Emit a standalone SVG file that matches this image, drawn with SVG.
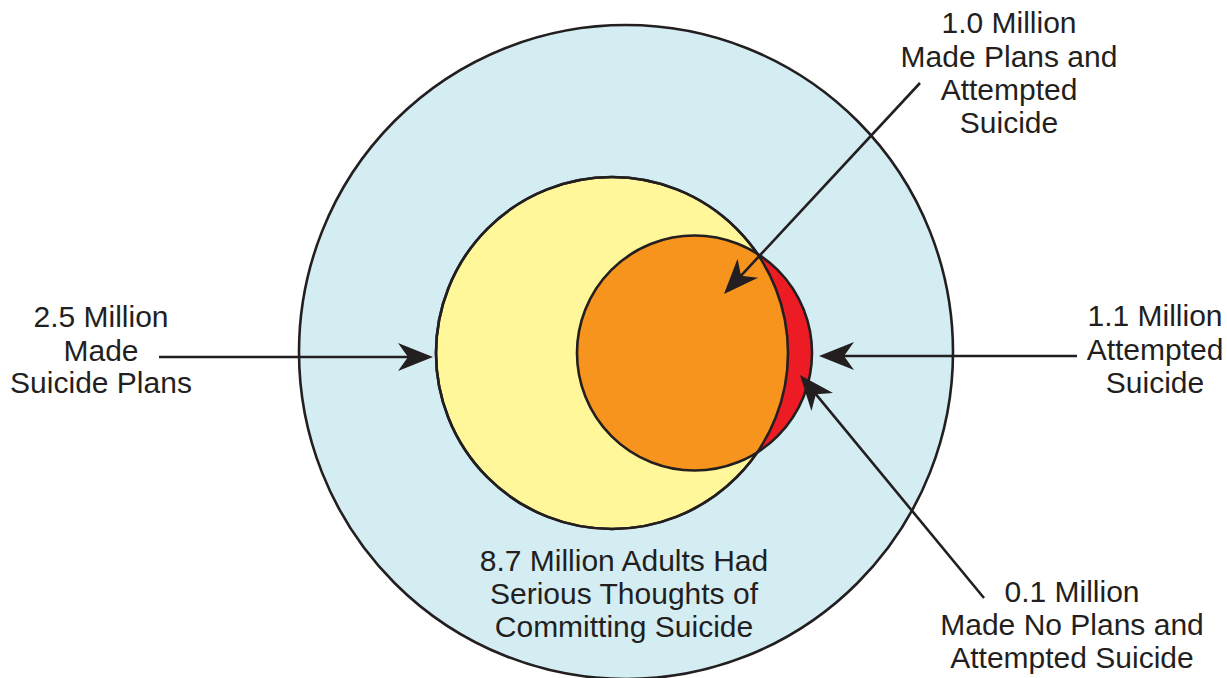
<svg xmlns="http://www.w3.org/2000/svg" width="1227" height="678" viewBox="0 0 1227 678">
  <style>
    .outline { stroke: #231F20; stroke-width: 2.6; }
    .lbl { font-family: "Liberation Sans", Arial, Helvetica, sans-serif; font-size: 30px; fill: #231F20; text-anchor: middle; }
    .conn { stroke: #231F20; stroke-width: 2.6; fill: none; marker-end: url(#arrow); }
  </style>
  <defs>
    <marker id="arrow" markerUnits="userSpaceOnUse" markerWidth="40" markerHeight="32" viewBox="0 -16 40 32" refX="15" refY="0" orient="auto">
      <path d="M35,0 L0,-14 L10,0 L0,14 Z" fill="#231F20"/>
    </marker>
    <clipPath id="yellowClip">
      <circle cx="612" cy="353" r="176"/>
    </clipPath>
  </defs>
  <rect width="1227" height="678" fill="#FFFFFF"/>

  <g id="node-thoughts">
    <circle cx="626" cy="352" r="327" fill="#D4EDF3" class="outline"/>
    <text class="lbl" x="624" y="571">8.7 Million Adults Had</text>
    <text class="lbl" x="624" y="604">Serious Thoughts of</text>
    <text class="lbl" x="624" y="637">Committing Suicide</text>
  </g>

  <g id="node-plans">
    <circle cx="612" cy="353" r="176" fill="#FFF79A" class="outline"/>
  </g>

  <g id="node-attempted">
    <circle cx="694.5" cy="353" r="117.5" fill="#ED1C24"/>
    <circle cx="694.5" cy="353" r="117.5" fill="#F7941D" clip-path="url(#yellowClip)"/>
    <circle cx="612" cy="353" r="176" fill="none" class="outline"/>
    <circle cx="694.5" cy="353" r="117.5" fill="none" class="outline"/>
  </g>

  <g id="label-plans">
    <text class="lbl" x="101" y="327">2.5 Million</text>
    <text class="lbl" x="101" y="361">Made</text>
    <text class="lbl" x="101" y="393">Suicide Plans</text>
  </g>

  <g id="label-plans-attempted">
    <text class="lbl" x="1009" y="33">1.0 Million</text>
    <text class="lbl" x="1009" y="67">Made Plans and</text>
    <text class="lbl" x="1009" y="100">Attempted</text>
    <text class="lbl" x="1009" y="133">Suicide</text>
  </g>

  <g id="label-attempted">
    <text class="lbl" x="1155" y="326">1.1 Million</text>
    <text class="lbl" x="1155" y="360">Attempted</text>
    <text class="lbl" x="1155" y="393">Suicide</text>
  </g>

  <g id="label-noplans-attempted">
    <text class="lbl" x="1072" y="602">0.1 Million</text>
    <text class="lbl" x="1072" y="635">Made No Plans and</text>
    <text class="lbl" x="1072" y="668">Attempted Suicide</text>
  </g>

  <g id="connectors">
    <line class="conn" x1="159" y1="357" x2="413" y2="357"/>
    <line class="conn" x1="1077" y1="356" x2="839" y2="356"/>
    <line class="conn" x1="920" y1="83" x2="737.6" y2="279.3"/>
    <line class="conn" x1="984" y1="598" x2="812.7" y2="390.4"/>
  </g>
</svg>
